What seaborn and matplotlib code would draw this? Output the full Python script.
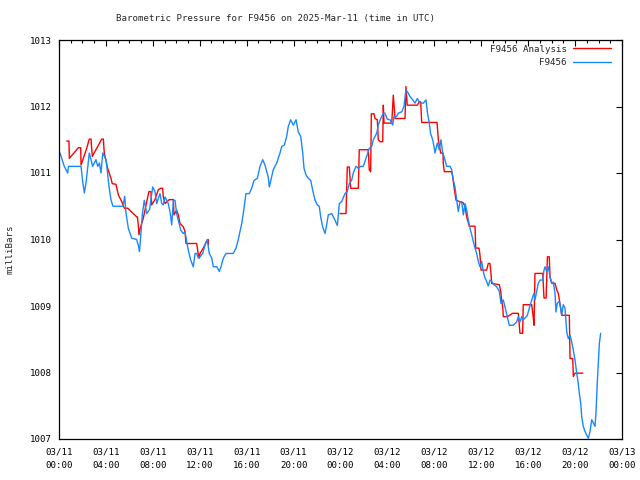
import pandas as pd
import numpy as np
import matplotlib
matplotlib.use("Agg")
import matplotlib.pyplot as plt
import matplotlib.dates as mdates
import seaborn as sns

# -----------------------------
# Data
# hours after 2025-03-11 00:00 UTC, pressure in mbar
# -----------------------------
obs_hours = [0.09, 0.45, 0.74, 0.81, 1.88, 2.00, 2.16, 2.30, 2.43, 2.58, 2.73, 2.87, 3.15, 3.30, 3.45,
             3.58, 3.73, 3.88, 4.01, 4.14, 4.26, 4.43, 4.60, 5.46, 5.60, 5.71, 5.91, 6.20, 6.62, 6.78,
             6.86, 6.99, 7.10, 7.27, 7.48, 7.72, 7.99, 8.18, 8.33, 8.47, 8.61, 8.76, 8.89, 9.04, 9.18,
             9.32, 9.46, 9.61, 9.75, 9.89, 10.03, 10.17, 10.38, 10.60, 10.74, 10.89, 11.02, 11.23, 11.45, 11.60,
             11.74, 11.88, 12.02, 12.25, 12.45, 12.64, 12.81, 13.02, 13.16, 13.45, 13.67, 13.81, 14.01, 14.24, 14.86,
             15.09, 15.29, 15.43, 15.58, 15.71, 15.94, 16.22, 16.43, 16.63, 16.91, 17.14, 17.37, 17.56, 17.71, 17.84,
             17.93, 18.13, 18.27, 18.56, 18.84, 18.99, 19.21, 19.41, 19.55, 19.75, 19.98, 20.21, 20.40, 20.61, 20.78,
             20.89, 21.06, 21.26, 21.46, 21.63, 21.83, 22.02, 22.19, 22.31, 22.48, 22.68, 22.82, 22.96, 23.25, 23.53,
             23.73, 23.90, 24.10, 24.38, 24.58, 24.75, 24.95, 25.09, 25.32, 25.52, 25.72, 25.94, 26.23, 26.45, 26.66,
             26.80, 27.09, 27.22, 27.43, 27.65, 27.79, 27.99, 28.22, 28.45, 28.56, 28.79, 28.93, 29.22, 29.41, 29.58,
             29.78, 29.93, 30.16, 30.35, 30.55, 30.78, 31.06, 31.29, 31.40, 31.57, 31.67, 31.86, 31.97, 32.06, 32.25,
             32.42, 32.57, 32.71, 32.82, 33.05, 33.34, 33.48, 33.62, 33.76, 33.85, 33.96, 34.04, 34.19, 34.33, 34.47,
             34.62, 34.76, 34.90, 35.04, 35.19, 35.32, 35.47, 35.61, 35.75, 35.89, 36.04, 36.17, 36.32, 36.46, 36.60,
             36.74, 36.89, 37.08, 37.31, 37.54, 37.68, 37.88, 38.02, 38.22, 38.39, 38.73, 39.02, 39.16, 39.30, 39.45,
             39.58, 39.73, 39.93, 40.10, 40.22, 40.39, 40.50, 40.58, 40.73, 40.86, 41.01, 41.24, 41.35, 41.44, 41.58,
             41.72, 41.86, 42.01, 42.14, 42.29, 42.37, 42.48, 42.65, 42.77, 42.86, 42.99, 43.14, 43.29, 43.42, 43.57,
             43.71, 43.85, 43.99, 44.14, 44.27, 44.36, 44.48, 44.56, 44.70, 44.85, 44.99, 45.13, 45.27, 45.42, 45.56,
             45.70, 45.78, 45.89, 45.98, 46.07, 46.18]
obs_mbar = [1011.30, 1011.10, 1011.00, 1011.10, 1011.10, 1010.90, 1010.70, 1010.85, 1011.05, 1011.30, 1011.20, 1011.10, 1011.20, 1011.10, 1011.15,
            1011.00, 1011.30, 1011.25, 1011.20, 1011.00, 1010.80, 1010.60, 1010.50, 1010.50, 1010.65, 1010.40, 1010.17, 1010.02, 1010.00, 1009.90,
            1009.82, 1010.10, 1010.37, 1010.59, 1010.39, 1010.45, 1010.79, 1010.72, 1010.54, 1010.62, 1010.69, 1010.54, 1010.52, 1010.64, 1010.59,
            1010.54, 1010.42, 1010.22, 1010.59, 1010.59, 1010.39, 1010.29, 1010.14, 1010.09, 1010.12, 1009.97, 1009.84, 1009.69, 1009.59, 1009.79,
            1009.79, 1009.72, 1009.74, 1009.79, 1009.92, 1010.00, 1009.79, 1009.72, 1009.59, 1009.59, 1009.52, 1009.59, 1009.72, 1009.79, 1009.79,
            1009.87, 1010.00, 1010.12, 1010.24, 1010.39, 1010.69, 1010.69, 1010.77, 1010.89, 1010.92, 1011.10, 1011.20, 1011.12, 1011.02, 1010.94,
            1010.79, 1010.94, 1011.05, 1011.15, 1011.30, 1011.40, 1011.42, 1011.55, 1011.70, 1011.80, 1011.72, 1011.80, 1011.62, 1011.55, 1011.30,
            1011.07, 1010.97, 1010.92, 1010.89, 1010.74, 1010.59, 1010.52, 1010.50, 1010.34, 1010.19, 1010.09, 1010.22, 1010.37, 1010.39, 1010.29,
            1010.21, 1010.54, 1010.57, 1010.69, 1010.72, 1010.84, 1010.89, 1011.00, 1011.10, 1011.07, 1011.10, 1011.10, 1011.25, 1011.37, 1011.40,
            1011.50, 1011.60, 1011.72, 1011.82, 1011.90, 1011.90, 1011.81, 1011.80, 1011.72, 1011.85, 1011.85, 1011.90, 1011.92, 1012.00, 1012.25,
            1012.20, 1012.15, 1012.10, 1012.05, 1012.12, 1012.05, 1012.05, 1012.10, 1011.92, 1011.75, 1011.60, 1011.50, 1011.40, 1011.30, 1011.45,
            1011.35, 1011.50, 1011.30, 1011.25, 1011.10, 1011.10, 1011.05, 1010.89, 1010.79, 1010.67, 1010.52, 1010.42, 1010.57, 1010.57, 1010.37,
            1010.54, 1010.44, 1010.29, 1010.17, 1010.07, 1009.97, 1009.87, 1009.79, 1009.67, 1009.59, 1009.67, 1009.52, 1009.42, 1009.37, 1009.30,
            1009.39, 1009.37, 1009.32, 1009.29, 1009.22, 1009.04, 1009.09, 1008.99, 1008.84, 1008.71, 1008.71, 1008.76, 1008.84, 1008.76, 1008.84,
            1008.79, 1008.82, 1008.86, 1008.97, 1009.04, 1009.14, 1009.19, 1009.09, 1009.22, 1009.34, 1009.39, 1009.39, 1009.54, 1009.59, 1009.52,
            1009.59, 1009.44, 1009.34, 1009.36, 1009.19, 1008.91, 1009.04, 1009.07, 1008.97, 1008.86, 1009.02, 1008.97, 1008.61, 1008.51, 1008.56,
            1008.46, 1008.34, 1008.19, 1007.99, 1007.84, 1007.69, 1007.54, 1007.34, 1007.19, 1007.11, 1007.06, 1007.01, 1007.11, 1007.29, 1007.24,
            1007.19, 1007.39, 1007.84, 1008.14, 1008.44, 1008.59]

# analysis, first stretch (03/11 morning)
ana1_hours = [0.66, 0.85, 0.88, 1.65, 1.85, 1.88, 2.36, 2.58, 2.73, 2.84, 3.64, 3.78, 3.86, 4.15, 4.43,
              4.54, 4.86, 5.06, 5.35, 5.57, 5.86, 6.62, 6.69, 6.76, 6.82, 6.93, 7.19, 7.48, 7.67, 7.84,
              7.90, 8.18, 8.47, 8.67, 8.84, 8.89, 9.04, 9.40, 9.75, 9.80, 10.03, 10.17, 10.32, 10.60, 10.74,
              10.83, 11.74, 11.88, 11.96, 12.02, 12.30, 12.58, 12.72, 12.75]
ana1_mbar = [1011.48, 1011.48, 1011.22, 1011.38, 1011.38, 1011.12, 1011.37, 1011.51, 1011.51, 1011.25, 1011.51, 1011.51, 1011.30, 1011.07, 1010.92,
             1010.84, 1010.83, 1010.67, 1010.57, 1010.47, 1010.47, 1010.34, 1010.34, 1010.22, 1010.07, 1010.17, 1010.32, 1010.57, 1010.72, 1010.72,
             1010.52, 1010.60, 1010.75, 1010.77, 1010.77, 1010.64, 1010.54, 1010.60, 1010.60, 1010.37, 1010.44, 1010.37, 1010.24, 1010.19, 1010.12,
             1009.94, 1009.94, 1009.77, 1009.72, 1009.79, 1009.87, 1009.97, 1010.00, 1009.92]

# analysis, second stretch (03/12)
ana2_hours = [23.96, 24.47, 24.53, 24.58, 24.75, 24.87, 25.52, 25.60, 26.37, 26.45, 26.57, 26.63, 26.86, 26.94, 27.14,
              27.22, 27.37, 27.60, 27.65, 27.71, 28.37, 28.50, 28.65, 29.50, 29.58, 29.69, 30.55, 30.72, 30.84, 30.92,
              32.23, 32.34, 32.54, 32.74, 32.76, 32.85, 33.48, 33.57, 33.68, 33.85, 34.47, 34.62, 34.76, 34.98, 35.47,
              35.53, 35.81, 35.89, 35.98, 36.46, 36.60, 36.74, 36.83, 36.89, 37.54, 37.66, 37.74, 37.83, 37.88, 38.22,
              38.68, 39.16, 39.30, 39.53, 39.58, 40.30, 40.44, 40.50, 40.58, 41.24, 41.35, 41.53, 41.64, 41.80, 41.86,
              42.01, 42.29, 42.44, 42.57, 42.77, 42.86, 43.51, 43.57, 43.80, 43.85, 43.99, 44.65]
ana2_mbar = [1010.39, 1010.39, 1010.79, 1011.09, 1011.09, 1010.77, 1010.77, 1011.35, 1011.35, 1011.05, 1011.02, 1011.89, 1011.89, 1011.82, 1011.80,
             1011.50, 1011.47, 1011.47, 1012.02, 1011.75, 1011.75, 1012.17, 1011.82, 1011.82, 1012.30, 1012.02, 1012.02, 1012.07, 1012.07, 1011.76,
             1011.76, 1011.50, 1011.30, 1011.30, 1011.15, 1011.02, 1011.02, 1010.94, 1010.79, 1010.59, 1010.55, 1010.49, 1010.34, 1010.20, 1010.20,
             1009.87, 1009.87, 1009.77, 1009.54, 1009.54, 1009.64, 1009.64, 1009.49, 1009.34, 1009.32, 1009.22, 1009.09, 1008.99, 1008.84, 1008.84,
             1008.89, 1008.89, 1008.59, 1008.59, 1009.02, 1009.02, 1008.82, 1008.71, 1009.49, 1009.49, 1009.12, 1009.12, 1009.74, 1009.74, 1009.44,
             1009.34, 1009.34, 1009.24, 1009.19, 1008.97, 1008.86, 1008.86, 1008.21, 1008.21, 1007.94, 1007.99, 1007.99]

series_names = ["F9456 Analysis", "F9456"]
series_colors = ["#ff0000", "#1a88ff"]
start = pd.Timestamp("2025-03-11 00:00")
title = "Barometric Pressure for F9456 on 2025-Mar-11 (time in UTC)"

# -----------------------------
# Build one long table
# -----------------------------
parts = [
    pd.DataFrame({"hours": ana1_hours, "mbar": ana1_mbar, "series": series_names[0], "seg": 1}),
    pd.DataFrame({"hours": ana2_hours, "mbar": ana2_mbar, "series": series_names[0], "seg": 2}),
    pd.DataFrame({"hours": obs_hours, "mbar": obs_mbar, "series": series_names[1], "seg": 3}),
]
df = pd.concat(parts, ignore_index=True)
df["time"] = start + pd.to_timedelta(df["hours"], unit="h")

# -----------------------------
# Plot
# -----------------------------
sns.set_style("white")
plt.rcParams["font.family"] = ["DejaVu Sans Mono", "DejaVu Sans"]
fs = 6.6

fig = plt.figure(figsize=(6.4, 4.8), dpi=100)
ax = fig.add_axes([59 / 640, 1 - 439 / 480, 563 / 640, 399 / 480])

sns.lineplot(data=df, x="time", y="mbar", hue="series", units="seg", estimator=None,
             hue_order=series_names, palette=series_colors, linewidth=1.0,
             sort=False, ax=ax)

ax.set_xlim(start, start + pd.Timedelta(hours=48))
ax.set_ylim(1007, 1013)
ax.set_yticks(range(1007, 1014))
ax.xaxis.set_major_locator(mdates.HourLocator(byhour=range(0, 24, 4)))
ax.xaxis.set_minor_locator(mdates.HourLocator())
ax.xaxis.set_major_formatter(mdates.DateFormatter("%m/%d\n%H:%M"))

ax.tick_params(which="both", direction="in", top=True, right=True, colors="black", labelsize=fs)
ax.tick_params(which="major", length=4.5, width=0.8)
ax.tick_params(which="minor", length=2.5, width=0.8)
ax.tick_params(axis="x", pad=6)
ax.tick_params(axis="y", pad=5)
for s in ax.spines.values():
    s.set_visible(True)
    s.set_color("black")
    s.set_linewidth(0.9)

ax.set_xlabel("")
ax.set_ylabel("")
fig.text(10 / 640, 1 - 249 / 480, "milliBars", rotation=90, ha="center", va="center", fontsize=fs)
fig.text(276 / 640, 1 - 19 / 480, title, ha="center", va="center", fontsize=fs)

handles, labels = ax.get_legend_handles_labels()
ax.legend(handles, labels, loc="upper right", bbox_to_anchor=(0.988, 1.0), frameon=False,
          markerfirst=False, fontsize=fs, handlelength=4.1, handletextpad=0.7, labelspacing=0.5,
          borderaxespad=0.2, borderpad=0.3)

# a bit more room between the two lines of each date label
fig.canvas.draw()
for tick in ax.xaxis.get_major_ticks():
    tick.label1.set_linespacing(1.6)

plt.savefig("out.png", dpi=100)
